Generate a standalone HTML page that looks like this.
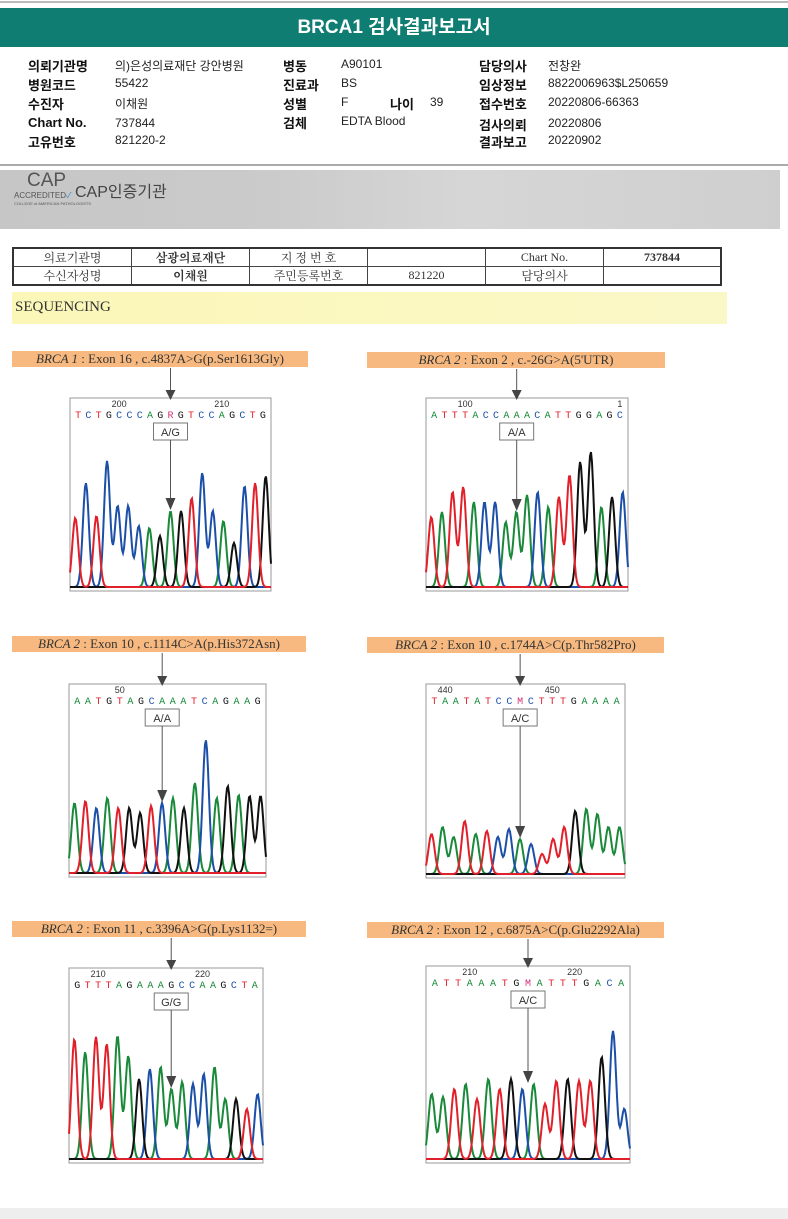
<!DOCTYPE html>
<html><head><meta charset="utf-8">
<style>
body{margin:0;width:788px;height:1219px;background:#fff;position:relative;overflow:hidden;font-family:"Liberation Sans","Noto Sans CJK KR",sans-serif;}
.abs{position:absolute}
.lbl{position:absolute;font-weight:bold;font-size:13px;color:#111}
.val{position:absolute;font-size:12px;color:#222}
.tt{position:absolute;height:16px;background:#f7b97f;font-family:"Liberation Serif","Noto Serif CJK SC",serif;font-size:13px;color:#333;text-align:center;line-height:16px}
table{border-collapse:collapse}
td{border:1px solid #444;font-size:12px;text-align:center;height:14px;padding:0;font-family:"Liberation Serif","Noto Serif CJK SC",serif;color:#333}
</style></head><body>
<div class="abs" style="left:0;top:1px;width:788px;height:2px;background:#bbb"></div>
<div class="abs" style="left:0;top:8px;width:788px;height:39px;background:#0f7d72;color:#fff;font-size:19px;font-weight:bold;text-align:center;line-height:40px">BRCA1 검사결과보고서</div>

<div>
<div class="lbl" style="left:28px;top:56px">의뢰기관명</div><div class="val" style="left:115px;top:57px">의)은성의료재단 강안병원</div>
<div class="lbl" style="left:28px;top:75px">병원코드</div><div class="val" style="left:115px;top:76px">55422</div>
<div class="lbl" style="left:28px;top:94px">수진자</div><div class="val" style="left:115px;top:95px">이채원</div>
<div class="lbl" style="left:28px;top:115px">Chart No.</div><div class="val" style="left:115px;top:116px">737844</div>
<div class="lbl" style="left:28px;top:132px">고유번호</div><div class="val" style="left:115px;top:133px">821220-2</div>
<div class="lbl" style="left:283px;top:56px">병동</div><div class="val" style="left:341px;top:57px">A90101</div>
<div class="lbl" style="left:283px;top:75px">진료과</div><div class="val" style="left:341px;top:76px">BS</div>
<div class="lbl" style="left:283px;top:94px">성별</div><div class="val" style="left:341px;top:95px">F</div>
<div class="lbl" style="left:390px;top:94px">나이</div><div class="val" style="left:430px;top:95px">39</div>
<div class="lbl" style="left:283px;top:113px">검체</div><div class="val" style="left:341px;top:114px">EDTA Blood</div>
<div class="lbl" style="left:479px;top:56px">담당의사</div><div class="val" style="left:548px;top:57px">전창완</div>
<div class="lbl" style="left:479px;top:75px">임상정보</div><div class="val" style="left:548px;top:76px">8822006963$L250659</div>
<div class="lbl" style="left:479px;top:94px">접수번호</div><div class="val" style="left:548px;top:95px">20220806-66363</div>
<div class="lbl" style="left:479px;top:115px">검사의뢰</div><div class="val" style="left:548px;top:116px">20220806</div>
<div class="lbl" style="left:479px;top:132px">결과보고</div><div class="val" style="left:548px;top:133px">20220902</div>
</div>
<div class="abs" style="left:0;top:164px;width:788px;height:2px;background:#aaa"></div>
<div class="abs" style="left:0;top:170px;width:780px;height:59px;background:linear-gradient(90deg,#c6c6c6,#cbcbcb 35%,#d6d6d6 60%,#cfcfcf)">
 <div class="abs" style="left:27px;top:0px;font-size:19px;color:#555">CAP</div>
 <div class="abs" style="left:14px;top:20px;font-size:8px;color:#555">ACCREDITED<span style="color:#3a8fd0">✓</span></div>
 <div class="abs" style="left:14px;top:31px;font-size:4px;color:#555">COLLEGE of AMERICAN PATHOLOGISTS</div>
 <div class="abs" style="left:75px;top:8px;font-size:16px;color:#444">CAP인증기관</div>
</div>
<table class="abs" style="left:12px;top:247px;width:710px;border:2px solid #333">
<tr><td style="width:117px">의료기관명</td><td style="width:117px;font-weight:bold">삼광의료재단</td><td style="width:117px">지 정 번 호</td><td style="width:117px"></td><td style="width:117px">Chart No.</td><td style="font-weight:bold">737844</td></tr>
<tr><td>수신자성명</td><td style="font-weight:bold">이채원</td><td>주민등록번호</td><td>821220</td><td>담당의사</td><td></td></tr>
</table>
<div class="abs" style="left:12px;top:292px;width:712px;height:32px;background:linear-gradient(90deg,#fbf7b8,#fbf8c8);font-family:'Liberation Serif',serif;font-size:15px;color:#333;line-height:30px;padding-left:3px">SEQUENCING</div>
<svg id="chr" class="abs" style="left:0;top:0" width="788" height="1219"></svg>
<div class="abs" style="left:0;top:1208px;width:788px;height:11px;background:#eee"></div>
<script>
const titles=["<i>BRCA 1</i> : Exon 16 , c.4837A>G(p.Ser1613Gly)","<i>BRCA 2</i> : Exon 2 , c.-26G>A(5'UTR)","<i>BRCA 2</i> : Exon 10 , c.1114C>A(p.His372Asn)","<i>BRCA 2</i> : Exon 10 , c.1744A>C(p.Thr582Pro)","<i>BRCA 2</i> : Exon 11 , c.3396A>G(p.Lys1132=)","<i>BRCA 2</i> : Exon 12 , c.6875A>C(p.Glu2292Ala)"];
const calls=["A/G","A/A","A/A","A/C","G/G","A/C"];
const seqs=["TCTGCCCAGRGTCCAGCTG","ATTTACCAAACATTGGAGC","AATGTAGCAAATCAGAAG","TAATATCCMCTTTGAAAA","GTTTAGAAAGCCAAGCTA","ATTAAATGMATTTGACA"];
const tickLabels=[["200","210"],["100","1"],["50"],["440","450"],["210","220"],["210","220"]];
const tickPos=[[4,14],[3,18],[4],[1,11],[2,12],[3,12]];
const peakBases=["TCTCCCCAGAGTCCAGCTG","TATTACCAAACATTGGAGC","ATCATGGTCAGACAGAGG","TAATATCCACTTTGAAAA","TATTAAGCAAACCAAGTC","AATATATGCATTGTTGCC"];
const peakHeights=[[69,104,71,126,81,81,61,59,51,76,76,89,114,76,66,44,101,104,111],
[70,75,95,100,85,85,85,65,75,92,95,80,90,112,125,135,80,90,95],
[70,72,65,75,65,65,60,67,70,75,65,90,133,75,87,78,77,77],
[40,47,37,53,40,43,37,45,35,30,20,35,47,63,65,60,47,47],
[120,107,122,115,123,103,80,90,92,70,77,75,85,92,60,60,50,65],
[65,62,70,75,60,80,70,80,70,75,55,78,80,78,78,102,128,50]];
const mutIdx=[9,8,8,8,9,8];
const boxes=[[70,398,201,193,12,351,296],[426,398,202,193,367,352,298],[69,684,197,193,12,636,294],[426,684,199,194,367,637,297],[69,968,194,195,12,921,294],[426,966,204,197,367,922,297]];
const col={A:"#1a8a3a",C:"#1c4fa8",G:"#111",T:"#e0202a",R:"#d0337a",M:"#d0337a"};
const svg=document.getElementById('chr');const NS="http://www.w3.org/2000/svg";
function mk(t,a){const e=document.createElementNS(NS,t);for(const k in a)e.setAttribute(k,a[k]);svg.appendChild(e);return e;}
boxes.forEach((b,p)=>{
 const [bx,by,bw,bh,tx,ty,tw]=b;
 const d=document.createElement('div');d.className='tt';d.style.left=tx+'px';d.style.top=ty+'px';d.style.width=tw+'px';d.innerHTML=titles[p];
 
 
 document.body.appendChild(d);
 const seq=seqs[p],n=seq.length,step=(bw-6)/n;
 const xs=i=>bx+3+step*(i+0.5);
 const ax=xs(mutIdx[p]);
 mk('rect',{x:bx,y:by,width:bw,height:bh,fill:'none',stroke:'#999','stroke-width':1});
 for(let i=0;i<n;i++){const t=mk('text',{x:xs(i),y:by+20,'text-anchor':'middle','font-size':10,'font-family':'Liberation Mono,monospace',fill:col[seq[i]]});t.textContent=seq[i];
  }
 tickLabels[p].forEach((l,j)=>{const t=mk('text',{x:xs(tickPos[p][j]),y:by+9,'text-anchor':'middle','font-size':9,'font-family':'Liberation Sans,sans-serif',fill:'#333'});t.textContent=l;
  });
 mk('line',{x1:ax,y1:ty+17,x2:ax,y2:by-6,stroke:'#555','stroke-width':1});
 mk('polygon',{points:`${ax-5},${by-8} ${ax+5},${by-8} ${ax},${by+2}`,fill:'#444'});
 const r=mk('rect',{x:ax-17,y:by+25,width:34,height:17,fill:'#fff',stroke:'#777'});
 
 const ct=mk('text',{x:ax,y:by+38,'text-anchor':'middle','font-size':11,fill:'#333'});ct.textContent=calls[p];
 const base=by+bh-3,hs=peakHeights[p],pb=peakBases[p],m=hs.length,pstep=bw/m;
 const px=i=>bx+pstep*(i+0.5);
 ['A','C','G','T'].forEach(B=>{
  let dstr='';
  for(let x=bx;x<=bx+bw;x+=1){let y=0;for(let i=0;i<m;i++){if(pb[i]===B){const dx=(x-px(i))/(pstep*0.4);y+=hs[i]*Math.exp(-dx*dx);}}
   dstr+=(x===bx?'M':'L')+x+','+(base-y-1).toFixed(1);}
  const pa=mk('path',{d:dstr,fill:'none',stroke:col[B],'stroke-width':2});
  
 });
 const hk=hs[Math.round((ax-bx)/pstep-0.5)]||60;
 mk('line',{x1:ax,y1:by+42,x2:ax,y2:base-hk-12,stroke:'#555','stroke-width':1});
 const yt=base-hk-2;
 mk('polygon',{points:`${ax-5},${yt-12} ${ax+5},${yt-12} ${ax},${yt}`,fill:'#444'});
});
</script>
</body></html>
